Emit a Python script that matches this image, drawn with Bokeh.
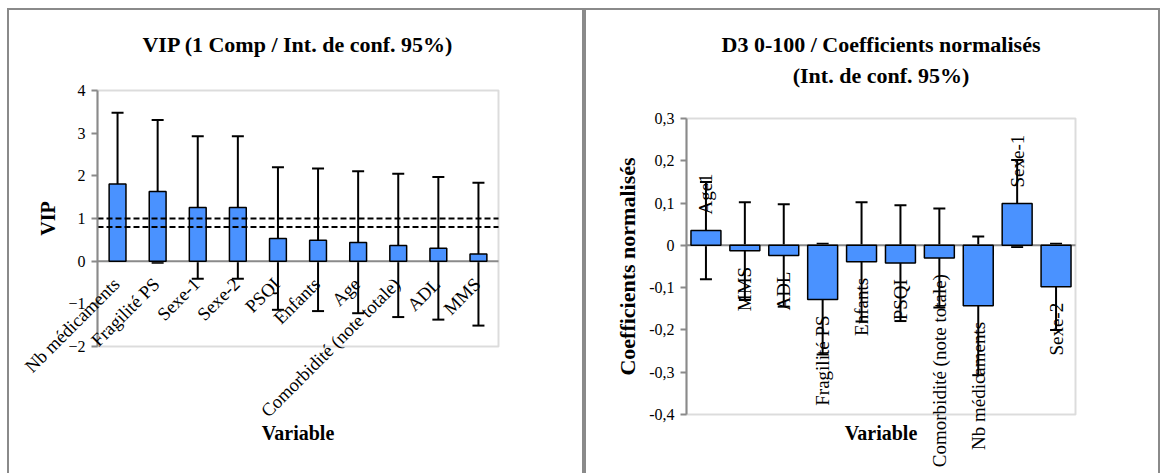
import math
from bokeh.plotting import figure
from bokeh.models import (ColumnDataSource, Range1d, FixedTicker, Whisker, TeeHead,
                          LabelSet, Label, CustomJSTickFormatter, BoxAnnotation)
from bokeh.embed import file_html
from bokeh.resources import INLINE

# ---------------- data ----------------
vip_cats = ["Nb médicaments", "Fragilité PS", "Sexe-1", "Sexe-2", "PSQI", "Enfants", "Age",
            "Comorbidité (note totale)", "ADL", "MMS"]
vip_vals = [1.81, 1.63, 1.26, 1.26, 0.53, 0.49, 0.44, 0.37, 0.30, 0.17]
vip_upper = [3.48, 3.31, 2.93, 2.93, 2.20, 2.17, 2.11, 2.05, 1.97, 1.84]
vip_lower = [0.15, -0.04, -0.41, -0.41, -1.14, -1.17, -1.22, -1.31, -1.37, -1.51]
vip_thresholds = [1.0, 0.8]
vip_ticks = [-2, -1, 0, 1, 2, 3, 4]

coef_cats = ["Age1", "MMS", "ADL", "Fragilité PS", "Enfants", "PSQI",
             "Comorbidité (note totale)", "Nb médicaments", "Sexe-1", "Sexe-2"]
coef_vals = [0.035, -0.013, -0.024, -0.128, -0.039, -0.042, -0.030, -0.143, 0.099, -0.098]
coef_upper = [0.150, 0.102, 0.097, 0.004, 0.102, 0.095, 0.087, 0.021, 0.202, 0.004]
coef_lower = [-0.080, -0.129, -0.145, -0.258, -0.180, -0.179, -0.147, -0.307, -0.004, -0.200]
coef_ticks = [-0.4, -0.3, -0.2, -0.1, 0.0, 0.1, 0.2, 0.3]

# ---------------- styles ----------------
BLUE = "#4a92ff"
GRAY = "#8a8a8a"
FONT = "Liberation Serif"


def ext_range(d0, d1, p0, p1, f0, f1):
    """Data range covering frame pixels f0..f1 when data d0..d1 sits at pixels p0..p1."""
    k = (d1 - d0) / (p1 - p0)
    a, b = d0 + (f0 - p0) * k, d0 + (f1 - p0) * k
    return Range1d(min(a, b), max(a, b))


def bold_label(x, y, text, size, x_offset=0, y_offset=0, angle=0.0):
    return Label(x=x, y=y, x_offset=x_offset, y_offset=y_offset, angle=angle, text=text,
                 text_align="center", text_baseline="middle", text_font=FONT,
                 text_font_size=size, text_font_style="bold", text_color="black")


def build(cats, ticks, w, h, box_px, frame_px, css):
    n = len(cats)
    y_lo, y_hi = min(ticks), max(ticks)
    bl, br, bt, bb = box_px
    fl, fr, ft, fb = frame_px
    p = figure(width=w, height=h,
               x_range=ext_range(0, n, bl, br, fl, fr),
               y_range=ext_range(y_hi, y_lo, bt, bb, ft, fb),
               output_backend="svg", toolbar_location=None, title_location=None,
               min_border_left=fl, min_border_right=w - fr, min_border_top=ft,
               min_border_bottom=h - fb)
    p.border_fill_color = None
    p.background_fill_color = "white"
    p.outline_line_color = None
    p.grid.visible = False
    p.xaxis.visible = False
    ax = p.yaxis[0]
    ax.fixed_location = 0
    ax.bounds = (y_lo, y_hi)
    ax.ticker = FixedTicker(ticks=ticks)
    ax.axis_line_color = GRAY
    ax.axis_line_width = 2
    ax.major_tick_line_color = GRAY
    ax.major_tick_line_width = 2
    ax.major_tick_in = 0
    ax.major_tick_out = 6
    ax.minor_tick_line_color = None
    ax.major_label_standoff = 6
    ax.major_label_text_font = FONT
    ax.major_label_text_font_size = "16px"
    ax.major_label_text_color = "black"
    p.styles = css
    p.add_layout(BoxAnnotation(left=0, right=n, bottom=y_lo, top=y_hi, fill_color=None,
                               line_color=GRAY, line_width=2, level="underlay"))
    return p


# ---------------- left: VIP ----------------
css1 = {"position": "absolute", "left": "0px", "top": "0px",
        "box-shadow": f"inset 7px 8px 0 0 white, inset 9px 10px 0 0 {GRAY}, inset -2px 0 0 0 {GRAY}"}
p1 = build(vip_cats, vip_ticks, 584, 473, (97, 498, 90, 346), (10, 574, 11, 473), css1)
n1 = len(vip_cats)
v_lo, v_hi = min(vip_ticks), max(vip_ticks)

src1 = ColumnDataSource(dict(x=[i + 0.5 for i in range(n1)], cat=vip_cats, val=vip_vals,
                             up=vip_upper, lo=vip_lower, base=[0.0] * n1))
p1.segment(x0=0, x1=n1, y0=0, y1=0, line_color=GRAY, line_width=2)
p1.vbar(x="x", top="val", width=0.42, source=src1, fill_color=BLUE, line_color="black",
        line_width=1.5)
p1.add_layout(Whisker(source=src1, base="x", upper="up", lower="lo", dimension="height",
                      line_color="black", line_width=2,
                      upper_head=TeeHead(size=12, line_width=2, line_color="black"),
                      lower_head=TeeHead(size=12, line_width=2, line_color="black")))
thr = ColumnDataSource(dict(x0=[0] * len(vip_thresholds), x1=[n1] * len(vip_thresholds),
                            y=vip_thresholds))
p1.segment(x0="x0", x1="x1", y0="y", y1="y", source=thr, line_color="black", line_width=2,
           line_dash="6 3")
p1.add_layout(LabelSet(source=src1, x="x", y="base", text="cat", angle=math.pi / 4,
                       text_align="right", text_baseline="middle", x_offset=-1, y_offset=-20,
                       text_font=FONT, text_font_size="18.5px", text_color="black"))
p1.add_layout(bold_label(n1 / 2, v_hi, "VIP (1 Comp / Int. de conf. 95%)", "22px", y_offset=46))
p1.add_layout(bold_label(0, (v_lo + v_hi) / 2, "VIP", "20px", x_offset=-50, angle=math.pi / 2))
p1.add_layout(bold_label(n1 / 2, v_lo, "Variable", "20px", y_offset=-86))

# ---------------- right: coefficients ----------------
css2 = {"position": "absolute", "left": "584px", "top": "0px",
        "box-shadow": f"inset 0 8px 0 0 white, inset 2px 10px 0 0 {GRAY}, inset -2px 0 0 0 {GRAY}"}
p2 = build(coef_cats, coef_ticks, 576, 473, (102, 491, 118, 414), (10, 570, 11, 473), css2)
p2.yaxis[0].formatter = CustomJSTickFormatter(
    code="const v = Math.round(tick * 10) / 10; return v === 0 ? '0' : v.toFixed(1).replace('.', ',');")
n2 = len(coef_cats)
c_lo, c_hi = min(coef_ticks), max(coef_ticks)

xs2 = [i + 0.5 for i in range(n2)]
src2 = ColumnDataSource(dict(x=xs2, cat=coef_cats, val=coef_vals, up=coef_upper, lo=coef_lower))
pos = [i for i, v in enumerate(coef_vals) if v >= 0]
neg = [i for i, v in enumerate(coef_vals) if v < 0]
src_pos = ColumnDataSource(dict(x=[xs2[i] for i in pos], cat=[coef_cats[i] for i in pos],
                                val=[coef_vals[i] for i in pos]))
src_neg = ColumnDataSource(dict(x=[xs2[i] for i in neg], cat=[coef_cats[i] for i in neg],
                                val=[coef_vals[i] for i in neg]))

p2.segment(x0=0, x1=n2, y0=0, y1=0, line_color=GRAY, line_width=2)
p2.vbar(x="x", top="val", width=0.77, source=src2, fill_color=BLUE, line_color="black",
        line_width=1.5)
p2.add_layout(Whisker(source=src2, base="x", upper="up", lower="lo", dimension="height",
                      line_color="black", line_width=2,
                      upper_head=TeeHead(size=12, line_width=2, line_color="black"),
                      lower_head=TeeHead(size=12, line_width=2, line_color="black")))
p2.add_layout(LabelSet(source=src_pos, x="x", y="val", text="cat", angle=math.pi / 2,
                       text_align="left", text_baseline="middle", y_offset=16,
                       text_font=FONT, text_font_size="19px", text_color="black"))
p2.add_layout(LabelSet(source=src_neg, x="x", y="val", text="cat", angle=math.pi / 2,
                       text_align="right", text_baseline="middle", y_offset=-16,
                       text_font=FONT, text_font_size="19px", text_color="black"))
p2.add_layout(bold_label(n2 / 2, c_hi, "D3 0-100 / Coefficients normalisés", "22px", y_offset=74))
p2.add_layout(bold_label(n2 / 2, c_hi, "(Int. de conf. 95%)", "22px", y_offset=43))
p2.add_layout(bold_label(0, (c_lo + c_hi) / 2, "Coefficients normalisés", "22px",
                         x_offset=-59, angle=math.pi / 2))
p2.add_layout(bold_label(n2 / 2, c_lo, "Variable", "20px", y_offset=-18))

open("out.html", "w").write(file_html([p1, p2], INLINE))
